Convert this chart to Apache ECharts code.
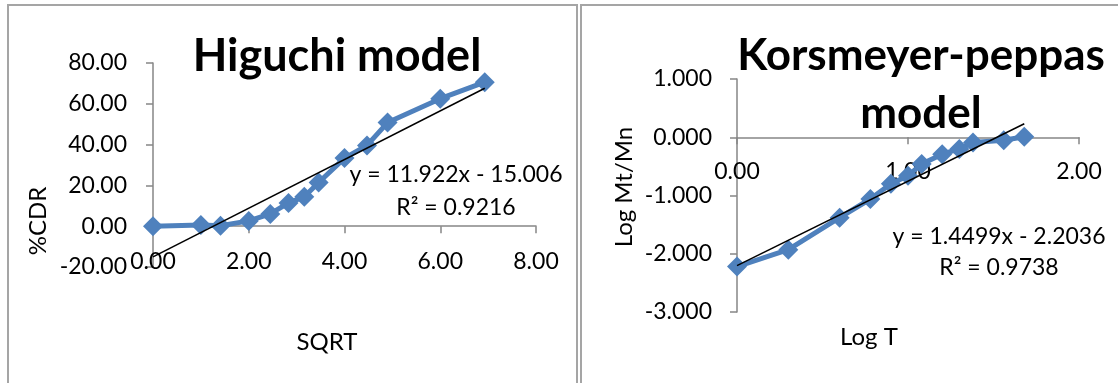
<!DOCTYPE html>
<html>
<head>
<meta charset="utf-8">
<script src="https://cdn.jsdelivr.net/npm/echarts@6/dist/echarts.min.js"></script>
<style>
  html, body { margin: 0; padding: 0; background: #fff; }
  #chart { width: 1118px; height: 383px; }
</style>
</head>
<body>
<div id="chart"></div>
<script>
// Higuchi model: square root of time vs cumulative drug release (%)
const higuchiX = [0, 1.00, 1.41, 2.00, 2.45, 2.83, 3.16, 3.46, 4.00, 4.47, 4.90, 6.00, 6.93];
const higuchiY = [0, 0.6, 0.2, 2.6, 6.0, 11.4, 14.4, 21.4, 33.4, 39.6, 50.8, 62.5, 70.6];
const higuchiSlope = 11.922;
const higuchiIntercept = -15.006;
const higuchiR2 = 0.9216;
const higuchiXTicks = [0, 2, 4, 6, 8];
const higuchiYTicks = [-20, 0, 20, 40, 60, 80];

// Korsmeyer-Peppas model: log time vs log fraction released
const kpX = [0, 0.30, 0.60, 0.78, 0.90, 1.00, 1.08, 1.20, 1.30, 1.38, 1.56, 1.68];
const kpY = [-2.22, -1.93, -1.38, -1.06, -0.80, -0.66, -0.46, -0.29, -0.20, -0.09, -0.05, 0.01];
const kpSlope = 1.4499;
const kpIntercept = -2.2036;
const kpR2 = 0.9738;
const kpXTicks = [0, 1, 2];
const kpYTicks = [-3, -2, -1, 0, 1];

const FONT = 'Lato';
const BLUE = '#4F81BD';
const AXIS = '#868686';
const FRAME = '#a5a5a5';

// plot areas of the two panels
const gridA = { left: 153, top: 63, width: 383, height: 204 };
const gridB = { left: 737, top: 79, width: 342, height: 233 };

function pairs(xs, ys) { return xs.map((x, i) => [x, ys[i]]); }
function fitLine(xs, slope, intercept) {
  const x0 = xs[0], x1 = xs[xs.length - 1];
  return [[x0, slope * x0 + intercept], [x1, slope * x1 + intercept]];
}
function eqText(slope, intercept) {
  return 'y = ' + slope + 'x ' + (intercept < 0 ? '- ' : '+ ') + Math.abs(intercept);
}
// shift the horizontal axis up so that it crosses the vertical axis at y = 0
function zeroOffset(yTicks, grid) {
  const min = yTicks[0], max = yTicks[yTicks.length - 1];
  return -((0 - min) / (max - min)) * grid.height;
}

function valueAxis(ticks, gridIndex, digits, margin, offset) {
  return {
    type: 'value',
    gridIndex: gridIndex,
    min: ticks[0],
    max: ticks[ticks.length - 1],
    interval: ticks[1] - ticks[0],
    offset: offset || 0,
    splitLine: { show: false },
    axisLine: { show: true, onZero: false, lineStyle: { color: AXIS, width: 1.5 } },
    axisTick: { show: true, inside: false, length: 7, lineStyle: { color: AXIS, width: 1.5 } },
    axisLabel: {
      margin: margin,
      color: '#000',
      fontFamily: FONT,
      fontSize: 23,
      formatter: v => v.toFixed(digits),
      showMinLabel: true,
      showMaxLabel: true
    }
  };
}

function txt(text, x, y, opts) {
  return Object.assign({
    type: 'text',
    x: x, y: y,
    style: Object.assign({
      text: text,
      fill: '#000',
      font: '23px ' + FONT,
      textAlign: 'center',
      textVerticalAlign: 'middle'
    }, (opts && opts.style) || {})
  }, (opts && opts.el) || {});
}

const dataLine = { color: BLUE, width: 5 };

const chart = echarts.init(document.getElementById('chart'), null, { renderer: 'canvas' });

chart.setOption({
  animation: false,
  backgroundColor: '#fff',
  grid: [gridA, gridB],
  xAxis: [
    valueAxis(higuchiXTicks, 0, 2, 24, zeroOffset(higuchiYTicks, gridA)),
    valueAxis(kpXTicks, 1, 2, 23, zeroOffset(kpYTicks, gridB))
  ],
  yAxis: [
    valueAxis(higuchiYTicks, 0, 2, 26, 0),
    valueAxis(kpYTicks, 1, 3, 25, 0)
  ],
  series: [
    {
      type: 'line', xAxisIndex: 0, yAxisIndex: 0, z: 2,
      data: pairs(higuchiX, higuchiY),
      symbol: 'diamond', symbolSize: 20,
      lineStyle: dataLine,
      itemStyle: { color: BLUE }
    },
    {
      type: 'line', xAxisIndex: 0, yAxisIndex: 0, z: 3,
      data: fitLine(higuchiX, higuchiSlope, higuchiIntercept),
      symbol: 'none',
      lineStyle: { color: '#000', width: 1.5 }
    },
    {
      type: 'line', xAxisIndex: 1, yAxisIndex: 1, z: 2,
      data: pairs(kpX, kpY),
      symbol: 'diamond', symbolSize: 20,
      lineStyle: dataLine,
      itemStyle: { color: BLUE }
    },
    {
      type: 'line', xAxisIndex: 1, yAxisIndex: 1, z: 3,
      data: fitLine(kpX, kpSlope, kpIntercept),
      symbol: 'none',
      lineStyle: { color: '#000', width: 1.5 }
    }
  ],
  graphic: [
    // chart frames
    { type: 'rect', shape: { x: 8, y: 5, width: 569, height: 420 },
      style: { fill: 'none', stroke: FRAME, lineWidth: 2 }, z: -1 },
    { type: 'rect', shape: { x: 581, y: 5, width: 600, height: 420 },
      style: { fill: 'none', stroke: FRAME, lineWidth: 2 }, z: -1 },
    // titles
    txt('Higuchi model', 337, 56, { style: { font: 'bold 45px ' + FONT } }),
    txt('Korsmeyer-peppas', 921, 56, { style: { font: 'bold 44px ' + FONT } }),
    txt('model', 921, 114, { style: { font: 'bold 44px ' + FONT } }),
    // axis names
    txt('%CDR', 38, 221, { el: { rotation: Math.PI / 2 }, style: { font: '24px ' + FONT } }),
    txt('SQRT', 327, 342, { style: { font: '24px ' + FONT } }),
    txt('Log Mt/Mn', 624, 187, { el: { rotation: Math.PI / 2 }, style: { font: '24px ' + FONT } }),
    txt('Log T', 869, 337, { style: { font: '24px ' + FONT } }),
    // trendline equations
    txt(eqText(higuchiSlope, higuchiIntercept), 456, 175),
    txt('R\u00b2 = ' + higuchiR2, 456, 208),
    txt(eqText(kpSlope, kpIntercept), 999, 237),
    txt('R\u00b2 = ' + kpR2, 999, 268)
  ]
});
</script>
</body>
</html>
